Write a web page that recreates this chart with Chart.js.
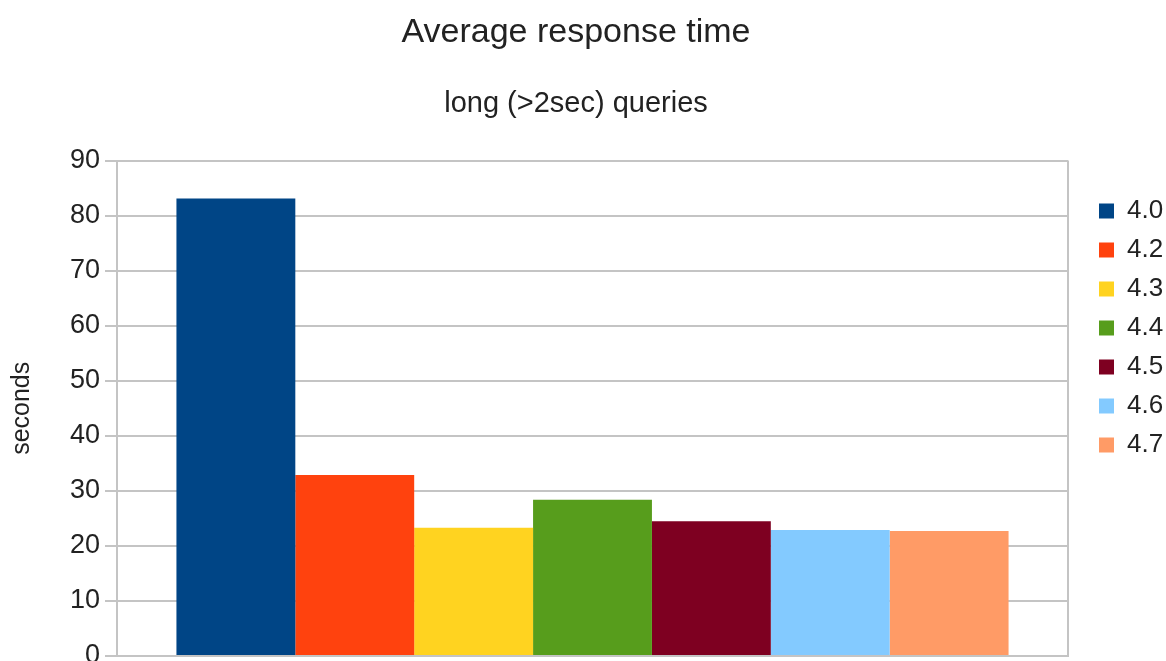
<!DOCTYPE html>
<html>
<head>
<meta charset="utf-8">
<script src="https://cdn.jsdelivr.net/npm/chart.js@4"></script>
<style>
  body { margin: 0; background: #fff; }
  #wrap { width: 1166px; height: 661px; position: relative; }
</style>
</head>
<body>
<div id="wrap"><canvas id="canvas"></canvas></div>
<script>
// values
const categories = ["long (>2sec) queries"];
const versions = ["4.0", "4.2", "4.3", "4.4", "4.5", "4.6", "4.7"];
const avgSeconds = [83.1, 32.9, 23.3, 28.4, 24.5, 22.9, 22.7];
const yMin = 0;
const yMax = 90;
const yStep = 10;

const colors = ["#004586", "#ff420e", "#ffd320", "#579d1c", "#7e0021", "#83caff", "#ff9b66"];
const gridColor = "#c4c4c4";
const textColor = "#222";
const fontFamily = "'Liberation Sans', Arial, sans-serif";

const datasets = versions.map(function (v, i) {
  return {
    label: v,
    data: [avgSeconds[i]],
    backgroundColor: colors[i],
    borderWidth: 0,
    categoryPercentage: 0.875,
    barPercentage: 1.0,
  };
});

const ctx = document.getElementById("canvas").getContext("2d");
const myChart = new Chart(ctx, {
  type: "bar",
  data: {
    labels: categories,
    datasets: datasets,
  },
  options: {
    responsive: true,
    maintainAspectRatio: false,
    animation: false,
    // the titles sit a little left of the canvas centre in the reference
    layout: { padding: { left: -14, bottom: 5 } },
    plugins: {
      title: {
        display: true,
        text: "Average response time",
        color: textColor,
        font: { family: fontFamily, size: 34, weight: "normal" },
        padding: { top: 12, bottom: 34 },
      },
      subtitle: {
        display: true,
        text: "long (>2sec) queries",
        color: textColor,
        font: { family: fontFamily, size: 29, weight: "normal" },
        padding: { top: 0, bottom: 39 },
      },
      legend: {
        position: "right",
        maxWidth: 80,
        labels: {
          color: textColor,
          font: { family: fontFamily, size: 26 },
          boxWidth: 15,
          boxHeight: 15,
          padding: 13,
        },
      },
      tooltip: { enabled: false },
    },
    scales: {
      x: {
        ticks: { display: false },
        grid: { display: true, offset: true, color: gridColor, lineWidth: 2, drawTicks: false },
        border: { display: true, color: gridColor, width: 2 },
      },
      y: {
        min: yMin,
        max: yMax,
        ticks: {
          stepSize: yStep,
          color: textColor,
          padding: 5,
          font: { family: fontFamily, size: 27 },
        },
        grid: { color: gridColor, lineWidth: 2, tickLength: 12 },
        border: { display: true, color: gridColor, width: 2 },
        title: {
          display: true,
          text: "seconds",
          color: textColor,
          font: { family: fontFamily, size: 25 },
          padding: { top: 21, bottom: 0 },
        },
        afterFit: function (scale) {
          scale.width = 131;
          scale.paddingBottom = 0;
        },
      },
      yR: {
        position: "right",
        display: true,
        ticks: { display: false },
        grid: { display: false },
        border: { display: false },
        afterFit: function (scale) {
          scale.width = 18;
        },
      },
    },
  },
});
</script>
</body>
</html>
